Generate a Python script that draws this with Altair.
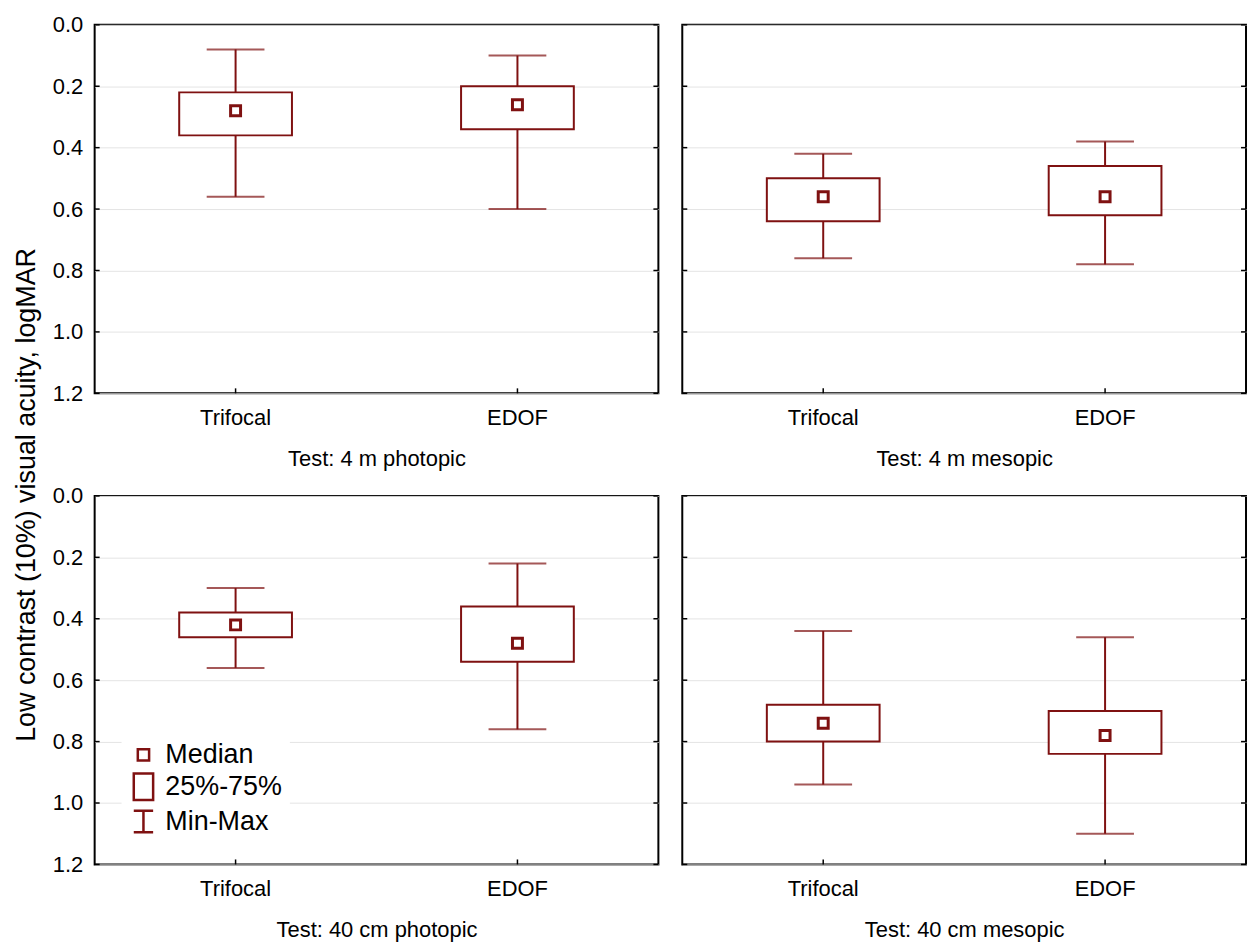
import altair as alt
import pandas as pd

panels = ["Test: 4 m photopic", "Test: 4 m mesopic", "Test: 40 cm photopic", "Test: 40 cm mesopic"]
groups = ["Trifocal", "EDOF"]
# per panel: Trifocal, EDOF
mins    = [0.08, 0.10, 0.42, 0.38, 0.30, 0.22, 0.44, 0.46]
q1s     = [0.22, 0.20, 0.50, 0.46, 0.38, 0.36, 0.68, 0.70]
medians = [0.28, 0.26, 0.56, 0.56, 0.42, 0.48, 0.74, 0.78]
q3s     = [0.36, 0.34, 0.64, 0.62, 0.46, 0.54, 0.80, 0.84]
maxs    = [0.56, 0.60, 0.76, 0.78, 0.56, 0.76, 0.94, 1.10]
y_ticks = [0.0, 0.2, 0.4, 0.6, 0.8, 1.0, 1.2]
legend_labels = ["Median", "25%-75%", "Min-Max"]

C = "#7f1111"
FONT = "Liberation Sans"
W, H = 566, 370

rows = []
for i, p in enumerate(panels):
    for j, g in enumerate(groups):
        k = i * 2 + j
        rows.append(dict(panel=p, group=g, mn=mins[k], q1=q1s[k], med=medians[k],
                         q3=q3s[k], mx=maxs[k]))
df = pd.DataFrame(rows)
ticks_df = pd.DataFrame({"t": y_ticks})
legend_df = pd.DataFrame({"item": legend_labels})

y_scale = alt.Scale(domain=[0, 1.2], reverse=True, nice=False, zero=False)


def panel(i, show_labels, with_legend=False):
    d = df[df.panel == panels[i]]
    base = alt.Chart(d)
    x = alt.X("group:N", sort=groups,
              scale=alt.Scale(domain=groups, paddingInner=0, paddingOuter=0),
              axis=alt.Axis(title=panels[i], labelAngle=0, ticks=False, domain=False,
                            grid=False, labelFontSize=22, titleFontSize=22,
                            titleFontWeight="normal", labelPadding=14, titlePadding=20,
                            labelColor="black", titleColor="black"))
    y_axis = alt.Axis(values=y_ticks, format=".1f", labels=show_labels, ticks=False,
                      domain=False, grid=True, gridColor="#e4e4e4", gridWidth=1,
                      title=None, labelFontSize=22, labelPadding=12, labelColor="black")
    whisker = base.mark_rule(color=C, strokeWidth=2).encode(
        x=x, y=alt.Y("mn:Q", scale=y_scale, axis=y_axis), y2="mx:Q")
    box = base.mark_bar(width=alt.RelativeBandSize(0.4), fill="white", stroke=C,
                        strokeWidth=2).encode(x="group:N", y="q1:Q", y2="q3:Q")
    cap_lo = base.mark_tick(color=C, size=58, thickness=2).encode(x="group:N", y="mn:Q")
    cap_hi = base.mark_tick(color=C, size=58, thickness=2).encode(x="group:N", y="mx:Q")
    med = base.mark_point(shape="square", filled=True, fill="white", stroke=C,
                          strokeWidth=3, size=100, opacity=1).encode(x="group:N", y="med:Q")
    tk = alt.Chart(ticks_df)
    lt = tk.mark_rule(color="black", strokeWidth=1.5).encode(
        y="t:Q", x=alt.value(0), x2=alt.value(5))
    rt = tk.mark_rule(color="black", strokeWidth=1.5).encode(
        y="t:Q", x=alt.value(W - 5), x2=alt.value(W))
    bt = base.mark_rule(color="black", strokeWidth=1.5).encode(
        x="group:N", y=alt.value(H - 5), y2=alt.value(H))
    layers = [whisker, box, cap_lo, cap_hi, med, lt, rt, bt]
    if with_legend:
        leg = alt.Chart(legend_df).mark_point(opacity=0).encode(
            shape=alt.Shape("item:N", sort=legend_labels,
                            scale=alt.Scale(domain=legend_labels, range=[
                                "M-0.42,-0.42H0.42V0.42H-0.42Z",
                                "M-0.72,-0.98H0.72V0.98H-0.72Z",
                                "M-0.72,-0.8H0.72M0,-0.8V0.8M-0.72,0.8H0.72"]),
                            legend=alt.Legend(title=None, orient="none", legendX=27,
                                              legendY=238, fillColor="white", padding=7,
                                              labelFontSize=27, labelColor="black",
                                              symbolSize=729, symbolOpacity=1,
                                              symbolStrokeColor=C, symbolFillColor="white",
                                              symbolStrokeWidth=2.5, rowPadding=0,
                                              labelOffset=7)))
        layers.append(leg)
    return alt.layer(*layers).properties(width=W, height=H)


row1 = alt.hconcat(panel(0, True), panel(1, False), spacing=20)
row2 = alt.hconcat(panel(2, True, True), panel(3, False), spacing=20).resolve_scale(shape="independent")
chart = alt.vconcat(row1, row2, spacing=14).resolve_scale(shape="independent").properties(
    title=alt.TitleParams("Low contrast (10%) visual acuity, logMAR", orient="left",
                          anchor="middle", fontSize=27, fontWeight="normal",
                          color="black", offset=10, dx=-18),
    padding={"left": 5, "top": 3, "right": 0, "bottom": 0},
).configure(font=FONT).configure_view(stroke="black", strokeWidth=2)

chart.save("out.html", embed_options={"renderer": "svg", "actions": False})
